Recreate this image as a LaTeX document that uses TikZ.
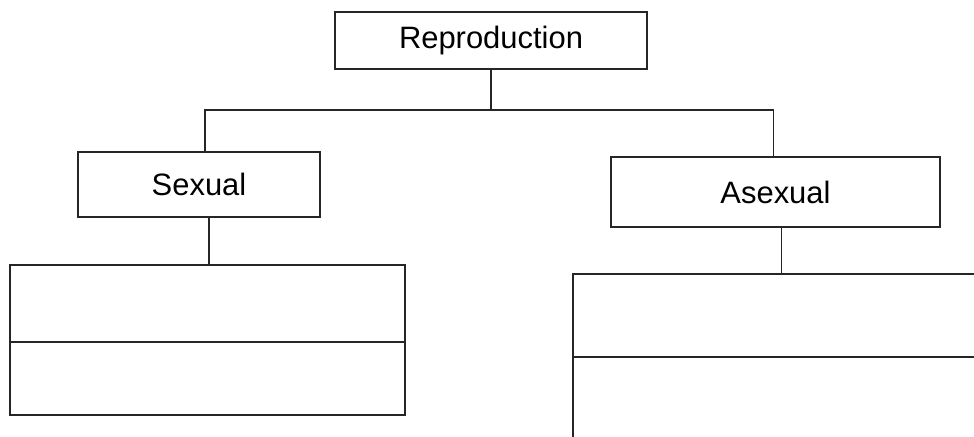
\documentclass[tikz,border=0pt]{standalone}
\usepackage{fontspec}
\setmainfont{Liberation Sans}
\usepackage{tikz}
\usetikzlibrary{positioning}
\colorlet{boxline}{black!85}

\begin{document}
\begin{tikzpicture}[
        box/.style={draw=boxline, line width=1pt, rectangle, font=\fontsize{22}{26}\selectfont, inner sep=0pt},
        link/.style={draw=boxline, line width=1pt}]
        \useasboundingbox (0,0) rectangle (24.35,-10.9);
        \clip (0,0) rectangle (24.35,-10.9);
        % top level and the two kinds
        \node[box, minimum width=7.8cm, minimum height=1.425cm] (repro) at (12.275,-1.0125) {Reproduction};
        \node[box, minimum width=6.05cm, minimum height=1.625cm] (sexual) at (4.975,-4.6125) {Sexual};
        \node[box, minimum width=8.225cm, minimum height=1.75cm] (asexual) at (19.3875,-4.8) {Asexual};
        % empty boxes to fill in
        \node[box, minimum width=9.875cm, minimum height=3.75cm] (sexbox) at (5.1875,-8.5) {};
        \node[box, minimum width=11cm, minimum height=5cm] (asexbox) at (19.825,-9.35) {};
        \draw[link] (sexbox.west |- 0,-8.55) -- (sexbox.east |- 0,-8.55);
        \draw[link] (asexbox.west |- 0,-8.925) -- (asexbox.east |- 0,-8.925);
        % tree lines
        \coordinate (bus) at (repro.south |- 0,-2.75);
        \draw[link] (repro.south) -- (bus);
        \draw[link] ([xshift=0.15cm]sexual.north) -- ([xshift=0.15cm]sexual.north |- bus)
            -- ([xshift=-0.05cm]asexual.north |- bus) -- ([xshift=-0.05cm]asexual.north);
        \draw[link] ([xshift=0.25cm]sexual.south) -- ([xshift=0.25cm]sexual.south |- sexbox.north);
        \draw[link] ([xshift=0.15cm]asexual.south) -- ([xshift=0.15cm]asexual.south |- asexbox.north);
\end{tikzpicture}
\end{document}
